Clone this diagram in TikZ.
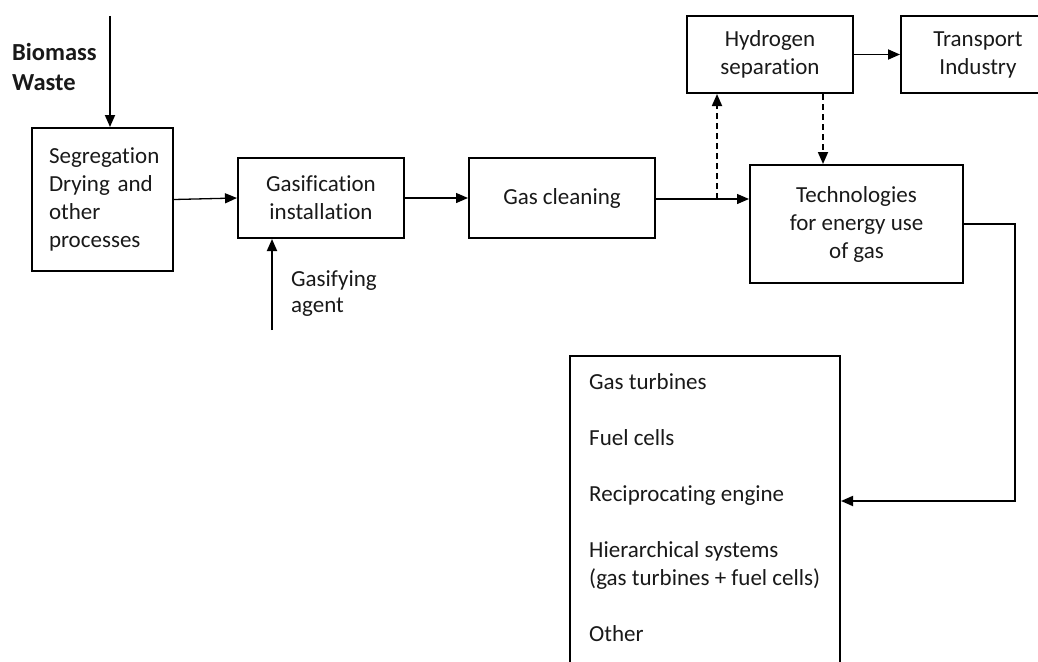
\documentclass[tikz,border=0pt]{standalone}
\usepackage{fontspec}
\setmainfont{Carlito}[Ligatures=NoCommon]
\usetikzlibrary{arrows.meta,calc}
\hfuzz=20pt
\begin{document}
\begin{tikzpicture}[x=1pt,y=-1pt,
  every node/.style={font=\fontsize{23}{28}\selectfont, inner sep=0pt, text=black!90},
  box/.style={draw=black, line width=2pt, align=center},
  arr/.style={-{Triangle[length=12pt,width=10pt]}, line width=1.8pt},
  thinarr/.style={-{Triangle[length=12pt,width=10pt]}, line width=1.3pt},
  dasharr/.style={arr, dash pattern=on 6pt off 4pt}]
\useasboundingbox (0,0) rectangle (1038,661);

% boxes
\node[box, minimum width=141, minimum height=143, text width=107, align=left] (seg) at (102.5,199.5) {Segregation\\Drying and\\other\\processes};
\node[box, minimum width=166, minimum height=80] (gas) at (321,198) {Gasification\\installation};
\node[box, minimum width=186, minimum height=80] (clean) at (562,198) {Gas cleaning};
\node[box, minimum width=166, minimum height=77] (hyd) at (770,54.5) {Hydrogen\\separation};
\node[box, minimum width=154, minimum height=77] (trans) at (978,54.5) {Transport\\Industry};
\node[box, minimum width=213, minimum height=118] (tech) at (856.5,224) {Technologies\\for energy use\\of gas};
\node[box, minimum width=270, minimum height=350, anchor=north west] (out) at (569,355) {};
\node[anchor=base west, align=left] (list) at (589,641) {Gas turbines\\[28pt]Fuel cells\\[28pt]Reciprocating engine\\[28pt]Hierarchical systems\\(gas turbines + fuel cells)\\[28pt]Other};

% free labels
\node[anchor=base west, align=left, font=\bfseries\fontsize{24.5}{30}\selectfont] (bio) at (12,90) {Biomass\\Waste};
\node[anchor=base west, align=left, font=\fontsize{23}{25.5}\selectfont] (agent) at (291,312) {Gasifying\\agent};

% coordinates
\coordinate (bm) at (110,16);
\coordinate (ga) at (272,330);
\coordinate (split) at (717,199);
\coordinate (hd) at (823,0);
\coordinate (corner) at (1015,501);

% connectors
\draw[arr] (bm) -- (bm |- seg.north);
\draw[thinarr] (seg.east) -- (gas.west);
\draw[arr] (ga) -- (ga |- gas.south);
\draw[thinarr] (gas.east) -- (clean.west);
\draw[thinarr] (clean.east |- split) -- (split -| tech.west);
\draw[dasharr] (split) -- (split |- hyd.south);
\draw[arr] (hyd.east) -- (trans.west);
\draw[dasharr] (hd |- hyd.south) -- (hd |- tech.north);
\draw[arr] (tech.east) -| (corner) -- (corner -| out.east);
\end{tikzpicture}
\end{document}
